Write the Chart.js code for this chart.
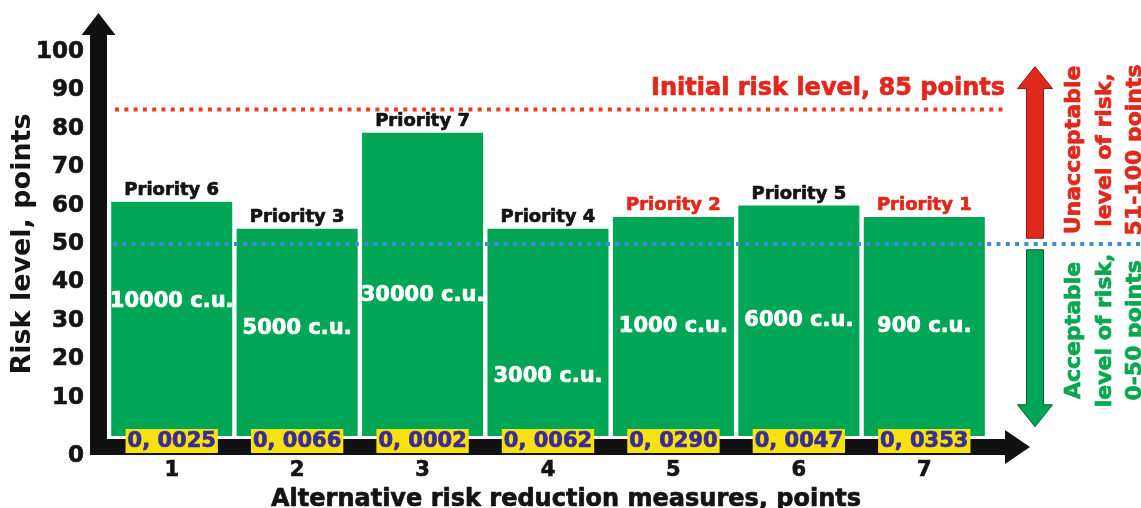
<!DOCTYPE html>
<html>
<head>
<meta charset="utf-8">
<script src="https://cdn.jsdelivr.net/npm/chart.js@4/dist/chart.umd.min.js"></script>
<style>
  html, body { margin: 0; padding: 0; background: #fff; }
  canvas { display: block; }
</style>
</head>
<body>
<canvas id="chart" width="1141" height="508"></canvas>
<script>
// ---- data ----
const measures = ['1', '2', '3', '4', '5', '6', '7'];
const riskLevel = [61, 54, 79, 54, 57, 60, 57];
const priorities = [6, 3, 7, 4, 2, 5, 1];
const costs = [10000, 5000, 30000, 3000, 1000, 6000, 900];
const efficiency = [0.0025, 0.0066, 0.0002, 0.0062, 0.0290, 0.0047, 0.0353];
const yTicks = [0, 10, 20, 30, 40, 50, 60, 70, 80, 90, 100];
const initialRisk = 85;
const acceptableLimit = 50;

// ---- text ----
const yTitle = 'Risk level, points';
const xTitle = 'Alternative risk reduction measures, points';
const initialRiskText = 'Initial risk level, ' + initialRisk + ' points';
const unacceptableText = ['Unacceptable', 'level of risk,', '51-100 points'];
const acceptableText = ['Acceptable', 'level of risk,', '0-50 points'];

// ---- look ----
const FONT = "'DejaVu Sans', 'Liberation Sans', sans-serif";
const GREEN = '#00a556';
const RED = '#e1281d';
const DARK = '#141414';
const HEAVY = 0.7; // extra stroke to thicken the bold glyphs
// height (in risk points) of the cost caption inside each bar
const costCaptionAt = [35, 28, 36.5, 15.5, 28.5, 30, 28.5];

const fmtEff = v => v.toFixed(4).replace('.', ', ');

function heavyText(ctx, txt, x, y, color) {
  ctx.fillStyle = color;
  ctx.strokeStyle = color;
  ctx.lineWidth = HEAVY;
  ctx.lineJoin = 'round';
  ctx.fillText(txt, x, y);
  ctx.strokeText(txt, x, y);
}

function vText(ctx, txt, x, yc, color, size) {
  ctx.save();
  ctx.translate(x, yc);
  ctx.rotate(-Math.PI / 2);
  ctx.font = 'bold ' + size + 'px ' + FONT;
  ctx.textAlign = 'center';
  ctx.textBaseline = 'alphabetic';
  heavyText(ctx, txt, 0, 0, color);
  ctx.restore();
}

function vArrow(ctx, x, yFrom, yTip, color, edge) {
  // shaft 17px wide, head 35px wide
  const dir = yTip < yFrom ? -1 : 1;
  const headLen = 22;
  const yBase = yTip - dir * headLen;
  ctx.save();
  ctx.beginPath();
  ctx.moveTo(x - 8.5, yFrom);
  ctx.lineTo(x - 8.5, yBase);
  ctx.lineTo(x - 17.5, yBase);
  ctx.lineTo(x, yTip);
  ctx.lineTo(x + 17.5, yBase);
  ctx.lineTo(x + 8.5, yBase);
  ctx.lineTo(x + 8.5, yFrom);
  ctx.closePath();
  ctx.fillStyle = color;
  ctx.fill();
  ctx.strokeStyle = edge;
  ctx.lineWidth = 1;
  ctx.stroke();
  ctx.restore();
}

const riskAnnotations = {
  id: 'riskAnnotations',
  afterDatasetsDraw(chart) {
    const { ctx, chartArea: ca, scales: { y } } = chart;
    const bars = chart.getDatasetMeta(0).data;

    // cost captions inside the bars
    bars.forEach((bar, i) => {
      const w = bar.width;
      ctx.save();
      ctx.beginPath();
      ctx.rect(bar.x - w / 2, bar.y, w, bar.base - bar.y);
      ctx.clip();
      ctx.font = 'bold 21px ' + FONT;
      ctx.textAlign = 'center';
      ctx.textBaseline = 'middle';
      heavyText(ctx, costs[i] + ' c.u.', bar.x, y.getPixelForValue(costCaptionAt[i]), '#ffffff');
      ctx.restore();
    });

    // priority labels above the bars
    bars.forEach((bar, i) => {
      ctx.save();
      ctx.font = 'bold 18px ' + FONT;
      ctx.textAlign = 'center';
      ctx.textBaseline = 'alphabetic';
      heavyText(ctx, 'Priority ' + priorities[i], bar.x, bar.y - 7, priorities[i] <= 2 ? RED : DARK);
      ctx.restore();
    });

    // initial risk level line
    const yInit = y.getPixelForValue(initialRisk);
    ctx.save();
    ctx.setLineDash([4, 5.3]);
    ctx.lineWidth = 4;
    ctx.strokeStyle = '#ee3a22';
    ctx.beginPath();
    ctx.moveTo(ca.left + 6, yInit);
    ctx.lineTo(ca.right + 20, yInit);
    ctx.stroke();
    // acceptable limit line
    const yLim = y.getPixelForValue(acceptableLimit);
    ctx.strokeStyle = '#3b8bd6';
    ctx.beginPath();
    ctx.moveTo(ca.left + 4, yLim);
    ctx.lineTo(chart.width, yLim);
    ctx.stroke();
    ctx.restore();

    ctx.save();
    ctx.font = 'bold 24px ' + FONT;
    ctx.textAlign = 'right';
    ctx.textBaseline = 'alphabetic';
    heavyText(ctx, initialRiskText, ca.right + 18, yInit - 15, RED);
    ctx.restore();
  },
  afterDraw(chart) {
    const { ctx, chartArea: ca, scales: { y } } = chart;
    const y0 = y.getPixelForValue(0);
    const bars = chart.getDatasetMeta(0).data;

    // thick black axes with arrow heads
    const sL = ca.left - 19, sR = ca.left - 2, sC = (sL + sR) / 2;
    const hT = y0 + 3, hB = y0 + 19, hC = (hT + hB) / 2;
    const tipX = ca.right + 43, baseX = ca.right + 18;
    ctx.save();
    ctx.fillStyle = '#111111';
    ctx.beginPath();
    ctx.moveTo(sC, 13);
    ctx.lineTo(sC + 17, 35);
    ctx.lineTo(sR, 35);
    ctx.lineTo(sR, hT);
    ctx.lineTo(baseX, hT);
    ctx.lineTo(baseX, hC - 17);
    ctx.lineTo(tipX, hC);
    ctx.lineTo(baseX, hC + 17);
    ctx.lineTo(baseX, hB);
    ctx.lineTo(sL, hB);
    ctx.lineTo(sL, 35);
    ctx.lineTo(sC - 17, 35);
    ctx.closePath();
    ctx.fill();
    ctx.restore();

    // zero tick sits below the axis bar
    ctx.save();
    ctx.font = 'bold 23px ' + FONT;
    ctx.textAlign = 'right';
    ctx.textBaseline = 'middle';
    heavyText(ctx, String(yTicks[0]), ca.left - 25, y0 + 20, DARK);
    ctx.restore();

    // efficiency boxes on the axis bar
    bars.forEach((bar, i) => {
      const txt = fmtEff(efficiency[i]);
      ctx.save();
      ctx.font = 'bold 21px ' + FONT;
      const w = ctx.measureText(txt).width + 4;
      ctx.fillStyle = '#f7e20c';
      ctx.fillRect(bar.x - w / 2, y0 - 7, w, 24);
      ctx.textAlign = 'center';
      ctx.textBaseline = 'middle';
      heavyText(ctx, txt, bar.x, y0 + 6, '#3a2c98');
      ctx.restore();
    });

    // x axis title
    ctx.save();
    ctx.font = 'bold 24px ' + FONT;
    ctx.textAlign = 'center';
    ctx.textBaseline = 'alphabetic';
    heavyText(ctx, xTitle, ca.left + 457, chart.height - 2, DARK);
    ctx.restore();

    // acceptable / unacceptable zones on the right
    const ax = ca.right + 48;
    vArrow(ctx, ax, y.getPixelForValue(51.5), y.getPixelForValue(96.2), RED, '#8a1a12');
    vArrow(ctx, ax, y.getPixelForValue(48.5), y.getPixelForValue(2.4), GREEN, '#0c5a30');
    const cols = [ca.right + 93, ca.right + 123.5, ca.right + 154];
    const yRed = y.getPixelForValue(74.5);
    const yGreen = y.getPixelForValue(27.5);
    cols.forEach((cx, i) => {
      vText(ctx, unacceptableText[i], cx, yRed, RED, 22);
      vText(ctx, acceptableText[i], cx, yGreen, '#0aa650', 22);
    });
  }
};

Chart.defaults.font.family = FONT;

new Chart(document.getElementById('chart'), {
  type: 'bar',
  data: {
    labels: measures,
    datasets: [{
      data: riskLevel,
      backgroundColor: GREEN,
      borderWidth: 0,
      barPercentage: 0.965,
      categoryPercentage: 1
    }]
  },
  options: {
    responsive: false,
    animation: false,
    events: [],
    layout: { padding: { left: 0, right: 154, top: 52, bottom: 0 } },
    plugins: {
      legend: { display: false },
      tooltip: { enabled: false },
      title: { display: false }
    },
    scales: {
      x: {
        grid: { display: false, drawTicks: false },
        border: { display: false },
        ticks: {
          color: DARK,
          font: { size: 21, weight: 'bold' },
          padding: 22,
          textStrokeColor: DARK,
          textStrokeWidth: HEAVY
        },
        afterFit(scale) { scale.height = 72; }
      },
      y: {
        min: 0,
        max: 100,
        grid: { display: false, drawTicks: false },
        border: { display: false },
        afterBuildTicks(scale) { scale.ticks = yTicks.map(v => ({ value: v })); },
        ticks: {
          color: DARK,
          font: { size: 23, weight: 'bold' },
          padding: 25,
          textStrokeColor: DARK,
          textStrokeWidth: HEAVY,
          callback: v => (v === 0 ? '' : String(v))
        },
        title: {
          display: true,
          text: yTitle,
          color: DARK,
          font: { size: 27, weight: 'bold' },
          padding: { top: 7, bottom: 0 }
        },
        afterFit(scale) { scale.width = 109; }
      }
    }
  },
  plugins: [riskAnnotations]
});
</script>
</body>
</html>
